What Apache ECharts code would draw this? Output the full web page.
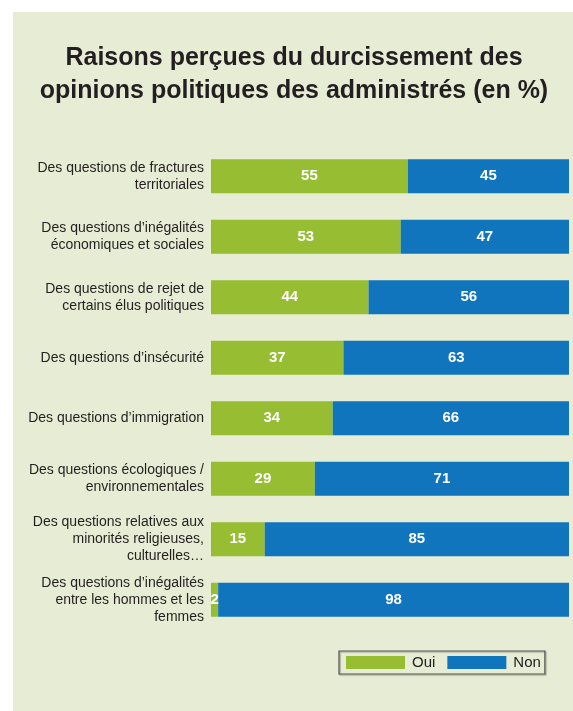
<!DOCTYPE html>
<html><head><meta charset="utf-8">
<script src="https://cdn.jsdelivr.net/npm/echarts@6/dist/echarts.min.js"></script>
<style>html,body{margin:0;padding:0;background:#fff}#c{width:573px;height:711px}</style>
</head><body><div id="c"></div>
<script>
const categories = [
  "Des questions de fractures\nterritoriales",
  "Des questions d’inégalités\néconomiques et sociales",
  "Des questions de rejet de\ncertains élus politiques",
  "Des questions d’insécurité",
  "Des questions d’immigration",
  "Des questions écologiques /\nenvironnementales",
  "Des questions relatives aux\nminorités religieuses,\nculturelles…",
  "Des questions d’inégalités\nentre les hommes et les\nfemmes"
];
const oui = [55, 53, 44, 37, 34, 29, 15, 2];
const non = [45, 47, 56, 63, 66, 71, 85, 98];
const seriesNames = ["Oui", "Non"];

const narrow = '"Liberation Sans", Arial, sans-serif';
const chart = echarts.init(document.getElementById('c'), null, {renderer: 'canvas'});
const labelStyle = {show: true, position: 'inside', color: '#fff', fontWeight: 'bold', fontSize: 15, fontFamily: narrow};
chart.setOption({
  backgroundColor: '#ffffff',
  animation: false,
  graphic: [{type: 'rect', z: -10, shape: {x: 13, y: 12, width: 560, height: 699}, style: {fill: '#e7ecd4'}}],
  title: {
    text: 'Raisons perçues du durcissement des\nopinions politiques des administrés (en %)',
    left: 289, top: 37, textAlign: 'center',
    textStyle: {fontFamily: '"Liberation Sans", Arial, sans-serif', fontWeight: 'bold', fontSize: 25, lineHeight: 33, color: '#231f20'}
  },
  legend: {
    left: 339, top: 651,
    data: seriesNames,
    icon: 'rect',
    itemWidth: 59, itemHeight: 13, itemGap: 12,
    padding: [4, 4, 4, 7],
    borderColor: '#555', borderWidth: 1.2,
    shadowColor: 'rgba(0,0,0,0.35)', shadowOffsetX: 1, shadowOffsetY: 1, shadowBlur: 1,
    textStyle: {fontFamily: narrow, fontSize: 15, color: '#222', padding: [0, 0, 0, 2]},
    selectedMode: false
  },
  grid: {left: 211, right: 4, top: 146, height: 484, containLabel: false},
  xAxis: {type: 'value', min: 0, max: 100, show: false},
  yAxis: {
    type: 'category', data: categories, inverse: true,
    axisLine: {show: false}, axisTick: {show: false}, splitLine: {show: false},
    axisLabel: {fontFamily: narrow, fontSize: 14, lineHeight: 17, color: '#231f20', margin: 7, align: 'right'}
  },
  series: [
    {name: seriesNames[0], type: 'bar', stack: 'a', data: oui, barWidth: 34, itemStyle: {color: '#97bd33'}, label: labelStyle},
    {name: seriesNames[1], type: 'bar', stack: 'a', data: non, barWidth: 34, itemStyle: {color: '#1175bd'}, label: labelStyle}
  ]
});
</script></body></html>
